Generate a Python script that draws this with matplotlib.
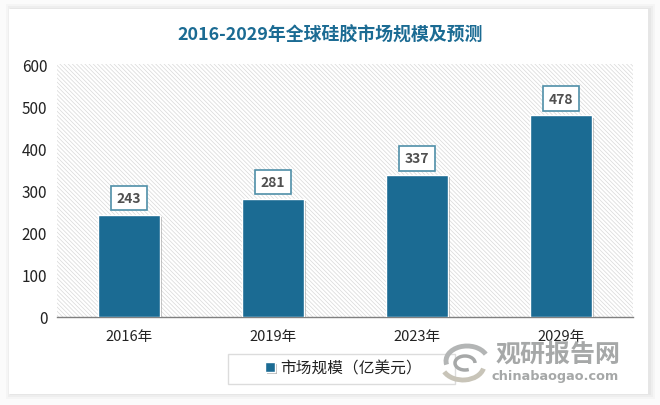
import matplotlib
matplotlib.use("Agg")
import matplotlib.pyplot as plt
import matplotlib.patheffects as pe
from matplotlib.patches import Rectangle, Arc

plt.rcParams['font.family'] = ['Noto Sans CJK SC', 'DejaVu Sans']
plt.rcParams['hatch.color'] = '#d8d8d8'
plt.rcParams['hatch.linewidth'] = 0.5

years = ['2016年', '2019年', '2023年', '2029年']
market_size = [243, 281, 337, 478]
y_ticks = [0, 100, 200, 300, 400, 500, 600]

W, H = 660, 406
fig = plt.figure(figsize=(W / 100, H / 100), dpi=100, facecolor='#fbfbfb')

# White card with soft shadow
for grow, shade in [(5, '#f5f5f5'), (3, '#eeeeee'), (1, '#e6e6e6')]:
    fig.patches.append(Rectangle(((9 - grow + 2) / W, 1 - (395 + grow) / H), (639 + 2 * grow) / W, (385 + 2 * grow) / H,
                                 transform=fig.transFigure, facecolor=shade, edgecolor='none', zorder=-3))
fig.patches.append(Rectangle((9 / W, 1 - 395 / H), 639 / W, 385 / H, transform=fig.transFigure,
                             facecolor='white', edgecolor='none', zorder=-2))
# Legend frame
fig.patches.append(Rectangle((228 / W, 1 - 385 / H), 227 / W, 30 / H, transform=fig.transFigure,
                             facecolor='white', edgecolor='#dcdcdc', linewidth=1, zorder=-1))

# Plot area
ax = fig.add_axes([57 / W, 1 - 318 / H, 576 / W, 253 / H])
ax.set_facecolor('white')
ax.patch.set_hatch('\\\\\\\\\\\\\\\\')
ax.patch.set_edgecolor('#d8d8d8')
ax.patch.set_linewidth(0)

bars = plt.bar(years, market_size, width=0.435, color='#1b6b93', edgecolor='white', linewidth=1, zorder=3,
               path_effects=[pe.withSimplePatchShadow(offset=(1.5, -1.5), shadow_rgbFace='#777777', alpha=0.5)])
plt.xlim(-0.5, 3.5)
plt.ylim(0, 600)
plt.yticks(y_ticks, fontsize=11, color='#222222')
plt.xticks(fontsize=10.5, color='#222222')
plt.tick_params(axis='y', length=0, pad=7)
plt.tick_params(axis='x', length=0, pad=9)
for side in ['top', 'right', 'left']:
    ax.spines[side].set_visible(False)
ax.spines['bottom'].set_color('#808080')
ax.spines['bottom'].set_linewidth(1)

# Data labels
for i, value in enumerate(market_size):
    plt.annotate(str(value), (i, value), xytext=(0, 12), textcoords='offset points', ha='center', va='center',
                 fontsize=10, fontweight='bold', color='#505050', zorder=5,
                 bbox=dict(boxstyle='square,pad=0.38', facecolor='white', edgecolor='#4f8fa8', linewidth=1.2))

plt.legend(bars, ['市场规模（亿美元）'], loc='center', bbox_to_anchor=(343.5 / W, 1 - 369 / H),
           bbox_transform=fig.transFigure, fontsize=11.3, frameon=False, handlelength=0.6, handleheight=0.6,
           handletextpad=0.35, borderaxespad=0, labelcolor='#222222')

fig.text(330 / W, 1 - 35 / H, '2016-2029年全球硅胶市场规模及预测', ha='center', va='center', fontsize=12.9,
         fontweight='bold', color='#1b6b93')

# Watermark
fig.text(558 / W, 1 - 355 / H, '观研报告网', ha='center', va='center', fontsize=18, fontweight='bold', color='#a6a8a8')
fig.text(555 / W, 1 - 377 / H, 'chinabaogao.com', ha='center', va='center', fontsize=9.3, fontweight='bold',
         color='#a6a8a8', family='DejaVu Sans')
logo = fig.add_axes([440 / W, 1 - 386 / H, 50 / W, 44 / H])
logo.axis('off')
logo.set_xlim(0, 50)
logo.set_ylim(0, 44)
logo.add_patch(Arc((27, 24), 42, 30, theta1=20, theta2=190, color='#b3b5b5', linewidth=3.5))
logo.add_patch(Arc((23, 20), 42, 30, theta1=200, theta2=350, color='#c8c4b8', linewidth=3.5))
logo.add_patch(Arc((25, 22), 20, 14, theta1=0, theta2=300, color='#a6a8a8', linewidth=2.5))

plt.savefig('out.png', dpi=100)
plt.close()
